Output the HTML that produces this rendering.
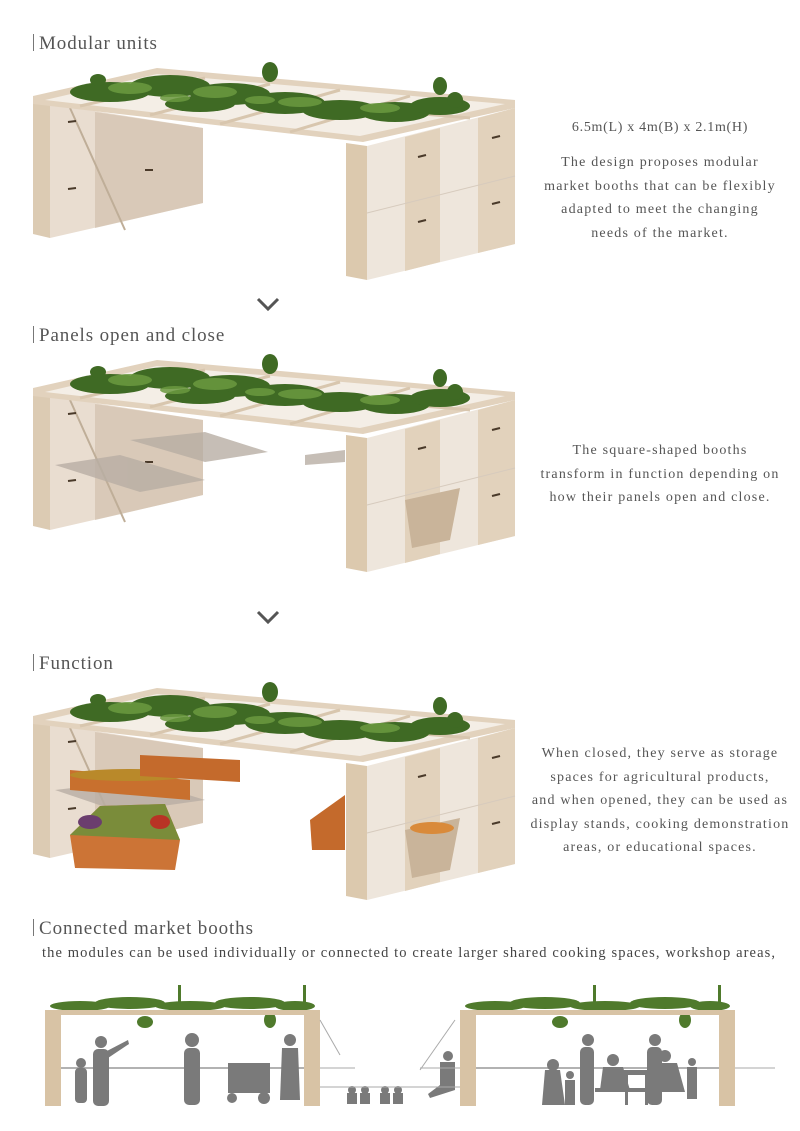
<!DOCTYPE html>
<html><head><meta charset="utf-8"><style>
html,body{margin:0;padding:0;background:#fff;}
body{width:800px;height:1131px;position:relative;overflow:hidden;font-family:"Liberation Serif","DejaVu Serif",serif;color:#555;}
.h{position:absolute;left:33px;font-size:19px;color:#555;white-space:nowrap;letter-spacing:0.9px;}
.h:before{content:"";display:inline-block;width:1px;height:17px;background:#777;margin-right:5px;vertical-align:-2px;}
.t{position:absolute;left:515px;width:290px;text-align:center;font-size:14px;line-height:23.5px;color:#555;letter-spacing:1.2px;}
svg{position:absolute;left:0;top:0;}
</style></head><body>
<svg width="800" height="1131" viewBox="0 0 800 1131">
<defs>
<g id="booth">
  <polygon points="33,100 50,104 50,238 33,234" fill="#dccbb3"/>
  <polygon points="50,104 203,128 203,203 50,238" fill="#e9ddd0"/>
  <polygon points="95,112 203,128 203,203 95,228" fill="#d4c4b2" opacity="0.8"/>
  <line x1="70" y1="108" x2="125" y2="230" stroke="#bfae98" stroke-width="2"/>
  <polygon points="33,96 157,68 515,100 515,108 363,142 33,104" fill="#e2d2bd"/>
  <polygon points="45,100 157,74 505,104 360,136" fill="#f4eee6"/>
  <g stroke="#d8c6ae" stroke-width="3">
    <line x1="80" y1="106" x2="205" y2="78"/><line x1="150" y1="115" x2="270" y2="84"/>
    <line x1="220" y1="124" x2="340" y2="90"/><line x1="290" y1="132" x2="410" y2="96"/>
    <line x1="120" y1="88" x2="470" y2="118"/>
  </g>
  <g fill="#3f6a24">
    <ellipse cx="110" cy="92" rx="40" ry="10"/><ellipse cx="170" cy="86" rx="40" ry="11"/>
    <ellipse cx="230" cy="94" rx="40" ry="11"/><ellipse cx="285" cy="103" rx="40" ry="11"/>
    <ellipse cx="340" cy="110" rx="38" ry="10"/><ellipse cx="395" cy="112" rx="35" ry="10"/>
    <ellipse cx="440" cy="106" rx="30" ry="9"/><ellipse cx="200" cy="104" rx="35" ry="8"/>
    <ellipse cx="270" cy="72" rx="8" ry="10"/><ellipse cx="440" cy="86" rx="7" ry="9"/>
    <ellipse cx="455" cy="100" rx="8" ry="8"/><ellipse cx="98" cy="80" rx="8" ry="6"/>
  </g>
  <g fill="#6b9a40" opacity="0.85">
    <ellipse cx="130" cy="88" rx="22" ry="6"/><ellipse cx="215" cy="92" rx="22" ry="6"/>
    <ellipse cx="300" cy="102" rx="22" ry="5"/><ellipse cx="380" cy="108" rx="20" ry="5"/>
    <ellipse cx="175" cy="98" rx="15" ry="4"/><ellipse cx="260" cy="100" rx="15" ry="4"/>
  </g>
  <polygon points="346,143 367,146 367,280 346,276" fill="#dcc9ae"/>
  <polygon points="367,146 515,108 515,244 367,280" fill="#eee6dc"/>
  <polygon points="405,137 440,128 440,262 405,271" fill="#e2d2bc"/>
  <polygon points="478,118 515,108 515,244 478,253" fill="#e2d2bc"/>
  <line x1="367" y1="213" x2="515" y2="176" stroke="#d6cabd"/>
  <g stroke="#4a3a2a" stroke-width="2">
    <line x1="418" y1="157" x2="426" y2="155"/><line x1="418" y1="222" x2="426" y2="220"/>
    <line x1="492" y1="138" x2="500" y2="136"/><line x1="492" y1="204" x2="500" y2="202"/>
    <line x1="68" y1="122" x2="76" y2="121"/><line x1="68" y1="189" x2="76" y2="188"/>
    <line x1="145" y1="170" x2="153" y2="170"/>
  </g>
</g>
<g id="chev"><polyline points="258,299 268,309 278,299" fill="none" stroke="#555" stroke-width="3"/></g>
</defs>
<use href="#booth"/>
<use href="#chev"/>
<use href="#booth" transform="translate(0,292)"/>
<g fill="#b8aea4" opacity="0.8">
  <polygon points="55,465 120,455 205,480 140,492"/>
  <polygon points="130,440 205,432 268,452 205,462"/>
  <polygon points="305,455 345,450 345,462 305,465"/>
</g>
<polygon points="405,500 460,488 450,540 412,548" fill="#c9b49a"/>
<use href="#chev" transform="translate(0,313)"/>
<use href="#booth" transform="translate(0,620)"/>
<g>
  <polygon points="55,790 140,780 205,800 120,812" fill="#b8aea4" opacity="0.8"/>
  <polygon points="70,770 190,780 190,800 70,790" fill="#c8702e"/>
  <ellipse cx="130" cy="775" rx="60" ry="6" fill="#b9892a"/>
  <polygon points="140,755 240,760 240,782 140,776" fill="#c46a2c"/>
  <polygon points="70,835 100,806 165,804 180,840 175,870 75,868" fill="#cc7436"/>
  <polygon points="70,835 100,806 165,804 180,840" fill="#7a8c3a"/>
  <ellipse cx="90" cy="822" rx="12" ry="7" fill="#6b3d6e"/>
  <ellipse cx="160" cy="822" rx="10" ry="7" fill="#b83325"/>
  <polygon points="310,820 345,795 345,850 312,850" fill="#c46a2c"/>
  <polygon points="405,830 460,818 450,870 412,878" fill="#c9b49a"/>
  <ellipse cx="432" cy="828" rx="22" ry="6" fill="#d98a3a"/>
</g>
<g id="elev">
  <g fill="#4f7a2c">
    <ellipse cx="80" cy="1006" rx="30" ry="5"/><ellipse cx="130" cy="1003" rx="35" ry="6"/>
    <ellipse cx="190" cy="1006" rx="35" ry="5"/><ellipse cx="250" cy="1003" rx="35" ry="6"/>
    <ellipse cx="295" cy="1006" rx="20" ry="5"/>
    <rect x="178" y="985" width="3" height="25"/><rect x="303" y="985" width="3" height="25"/>
    <ellipse cx="145" cy="1022" rx="8" ry="6"/><ellipse cx="270" cy="1020" rx="6" ry="8"/>
  </g>
  <rect x="45" y="1010" width="275" height="5" fill="#d8c3a5"/>
  <rect x="45" y="1012" width="16" height="94" fill="#d8c3a5"/>
  <rect x="304" y="1012" width="16" height="94" fill="#d8c3a5"/>
  <line x1="61" y1="1068" x2="304" y2="1068" stroke="#999" stroke-width="1.5"/>
</g>
<use href="#elev" transform="translate(415,0)"/>
<g fill="#7a7a7a">
  <circle cx="81" cy="1063" r="5"/><rect x="75" y="1068" width="12" height="35" rx="4"/>
  <circle cx="101" cy="1042" r="6"/><rect x="93" y="1049" width="16" height="57" rx="5"/>
  <polygon points="105,1052 128,1040 129,1044 108,1058"/>
  <circle cx="192" cy="1040" r="7"/><rect x="184" y="1048" width="16" height="57" rx="5"/>
  <rect x="228" y="1063" width="42" height="30"/>
  <circle cx="232" cy="1098" r="5"/><circle cx="264" cy="1098" r="6"/>
  <circle cx="290" cy="1040" r="6"/><polygon points="282,1048 298,1048 300,1100 280,1100"/>
  <circle cx="352" cy="1090" r="4"/><rect x="347" y="1093" width="10" height="11"/>
  <circle cx="365" cy="1090" r="4"/><rect x="360" y="1093" width="10" height="11"/>
  <circle cx="385" cy="1090" r="4"/><rect x="380" y="1093" width="10" height="11"/>
  <circle cx="398" cy="1090" r="4"/><rect x="393" y="1093" width="10" height="11"/>
  <circle cx="448" cy="1056" r="5"/><polygon points="440,1062 455,1062 455,1090 430,1098 428,1094 440,1085"/>
  <polygon points="545,1070 560,1070 565,1105 542,1105"/><circle cx="553" cy="1065" r="6"/>
  <circle cx="588" cy="1040" r="6"/><rect x="580" y="1047" width="14" height="58" rx="5"/>
  <circle cx="570" cy="1075" r="4"/><rect x="565" y="1080" width="10" height="25"/>
  <circle cx="613" cy="1060" r="6"/><polygon points="603,1067 623,1067 630,1090 600,1090"/>
  <rect x="595" y="1088" width="75" height="4"/><rect x="620" y="1070" width="30" height="5"/>
  <rect x="625" y="1075" width="3" height="30"/><rect x="645" y="1075" width="3" height="30"/>
  <circle cx="655" cy="1040" r="6"/><rect x="647" y="1047" width="15" height="58" rx="5"/>
  <circle cx="665" cy="1056" r="6"/><polygon points="657,1063 677,1063 685,1092 655,1092"/>
  <circle cx="692" cy="1062" r="4"/><rect x="687" y="1067" width="10" height="32"/>
</g>
<g stroke="#aaa" stroke-width="1">
  <line x1="320" y1="1020" x2="340" y2="1055"/><line x1="455" y1="1020" x2="420" y2="1070"/>
  <line x1="320" y1="1068" x2="355" y2="1068"/><line x1="420" y1="1068" x2="460" y2="1068"/>
  <line x1="735" y1="1068" x2="775" y2="1068"/><line x1="320" y1="1087" x2="460" y2="1087"/>
</g>
</svg>
<div class="h" style="top:33px">Modular units</div>
<div class="t" style="top:116px;letter-spacing:0.7px">6.5m(L) x 4m(B) x 2.1m(H)</div>
<div class="t" style="top:151px">The design proposes modular<br>market booths that can be flexibly<br>adapted to meet the changing<br>needs of the market.</div>
<div class="h" style="top:325px">Panels open and close</div>
<div class="t" style="top:439px">The square-shaped booths<br>transform in function depending on<br>how their panels open and close.</div>
<div class="h" style="top:653px">Function</div>
<div class="t" style="top:742px">When closed, they serve as storage<br>spaces for agricultural products,<br>and when opened, they can be used as<br>display stands, cooking demonstration<br>areas, or educational spaces.</div>
<div class="h" style="top:918px">Connected market booths</div>
<div style="position:absolute;left:42px;top:945px;font-size:14.5px;color:#444;white-space:nowrap;letter-spacing:1.1px;">the modules can be used individually or connected to create larger shared cooking spaces, workshop areas,</div>
</body></html>
